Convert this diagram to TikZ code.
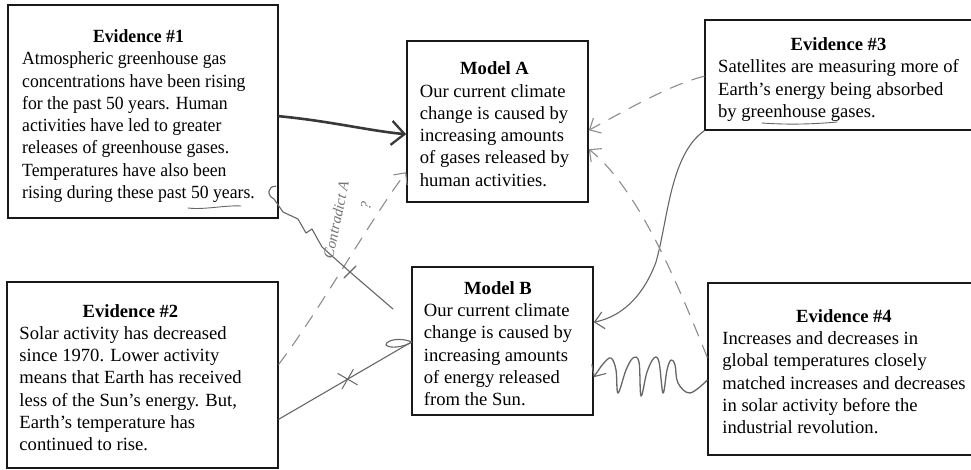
\documentclass[tikz,border=0pt]{standalone}
\usepackage{fontspec}
\usepackage{graphicx}
\setmainfont{Liberation Serif}
\usetikzlibrary{arrows.meta,shapes.misc,calc}
\newcommand\ttl[1]{\multicolumn{1}{@{}c@{}}{\rule{0pt}{24.6pt}\bfseries #1}}
\tikzset{
  box/.style={draw=black!90, line width=1.6pt, rectangle, inner sep=0pt,
    font=\fontsize{18.6}{22.3}\selectfont},
  pen/.style={draw=black!60, line width=1.1pt, line cap=round, line join=round},
  heavypen/.style={draw=black!78, line width=2.6pt, line cap=round, line join=round},
  dashpen/.style={draw=black!45, line width=1.1pt, line cap=round, dash pattern=on 13pt off 10pt},
  barb/.style={-{Straight Barb[length=9pt,width=17pt,line width=1.1pt]}},
  heavybarb/.style={-{Straight Barb[length=13pt,width=24pt,line width=2.3pt]}},
  xmark/.style={cross out, draw=black!60, line width=1pt, minimum size=15pt, inner sep=0pt},
  hand/.style={text=black!55, font=\itshape\fontsize{15}{15}\selectfont, inner sep=0pt}
}
\begin{document}
\begin{tikzpicture}[x=1pt,y=-1pt]
\useasboundingbox (0,0) rectangle (971,469);
\clip (0,0) rectangle (971,469);

% boxes
\node[box, minimum width=270pt, minimum height=213pt] (e1) at (143,111.5)
{\hspace*{-9pt}\scalebox{0.95}[1]{\begin{tabular}{@{}l@{}}\ttl{Evidence \#1}\\
Atmospheric greenhouse gas\\
concentrations have been rising\\
for the past 50 years. Human\\
activities have led to greater\\
releases of greenhouse gases.\\
Temperatures have also been\\
rising during these past 50 years.\end{tabular}}};

\node[box, minimum width=181pt, minimum height=161pt] (mA) at (497.5,121.5)
{\hspace*{-6pt}\begin{tabular}{@{}l@{}}\ttl{Model A}\\
Our current climate\\
change is caused by\\
increasing amounts\\
of gases released by\\
human activities.\end{tabular}};

\node[box, minimum width=280pt, minimum height=110pt] (e3) at (845,75)
{\hspace*{-13pt}\begin{tabular}{@{}l@{}}\ttl{Evidence \#3}\\
Satellites are measuring more of\\
Earth’s energy being absorbed\\
by greenhouse gases.\end{tabular}};

\node[box, minimum width=271pt, minimum height=186pt] (e2) at (142.5,375)
{\hspace*{-24pt}\begin{tabular}{@{}l@{}}\ttl{Evidence \#2}\\
Solar activity has decreased\\
since 1970. Lower activity\\
means that Earth has received\\
less of the Sun’s energy. But,\\
Earth’s temperature has\\
continued to rise.\end{tabular}};

\node[box, minimum width=181pt, minimum height=148pt] (mB) at (502.5,341)
{\hspace*{-9pt}\begin{tabular}{@{}l@{}}\ttl{Model B}\\
Our current climate\\
change is caused by\\
increasing amounts\\
of energy released\\
from the Sun.\end{tabular}};

\node[box, minimum width=277pt, minimum height=172pt] (e4) at (846.5,369)
{\hspace*{-5pt}\begin{tabular}{@{}l@{}}\ttl{Evidence \#4}\\
Increases and decreases in\\
global temperatures closely\\
matched increases and decreases\\
in solar activity before the\\
industrial revolution.\end{tabular}};

% handwritten underlines
\draw[pen, line width=0.9pt] (188,208) .. controls (205,210) and (225,205) .. (241,206);
\draw[pen, line width=0.9pt] (762,123) .. controls (790,125) and (815,124) .. (837,122);

% Evidence 1 -> Model A (heavy)
\draw[heavypen, heavybarb] ([yshift=-112pt]e1.north east)
  .. controls (330,121) and (370,131) .. ([yshift=-94pt]mA.north west);

% Evidence 2 -> Model A (dashed)
\draw[dashpen, barb] ([yshift=-83pt]e2.north east)
  .. controls (320,310) and (370,220) .. ([yshift=-132pt]mA.north west);

% Evidence 2 -> Model B (crossed out)
\draw[pen] ([yshift=-138pt]e2.north east) -- node[xmark, pos=0.52, rotate=15] (xm) {} ([yshift=-76pt]mB.north west);
\draw[pen] (412,342) .. controls (400,337) and (386,340) .. (386,345)
  .. controls (390,349) and (404,347) .. (412,342);

% Evidence 1 scribble with note
\coordinate (c4end) at (393,309);
\draw[pen] ([xshift=-3pt,yshift=-182pt]e1.north east) .. controls (268,186) and (266,195) .. (274,199)
  -- (283,212) -- (298,219) -- (306,233) -- (312,229) -- (322,247) -- (350,272) -- (c4end);
\draw[pen] (344,278) -- (356,266);
\node[hand, rotate=78] (note) at (336,220) {Contradict A};
\node[hand, rotate=78] (qm) at (366,206) {?};

% Evidence 3 -> Model A (dashed)
\draw[dashpen, barb] ([yshift=-57pt]e3.north west)
  .. controls (670,85) and (630,108) .. ([yshift=-90pt]mA.north east);

% Evidence 3 -> Model B (solid curve)
\draw[pen, barb] (e3.south west)
  .. controls (670,155) and (668,220) .. (656,262)
  .. controls (645,292) and (625,316) .. ([yshift=-56pt]mB.north east);

% Evidence 4 -> Model A (dashed)
\draw[dashpen, barb] ([yshift=-75pt]e4.north west)
  .. controls (680,290) and (640,190) .. ([yshift=-109pt]mA.north east);

% Evidence 4 -> Model B (wavy)
\draw[pen, line width=1.3pt, barb] plot[smooth, tension=0.6] coordinates {
  ([yshift=-98pt]e4.north west) (690,393) (678,383) (675,365) (671,360) (667,370)
  (663,393) (659,362) (654,358) (647,372) (641,396) (639,362) (633,358) (626,370)
  (618,393) (616,370) (611,358) (603,364)
  ([yshift=-111pt]mB.north east)};
\end{tikzpicture}
\end{document}
